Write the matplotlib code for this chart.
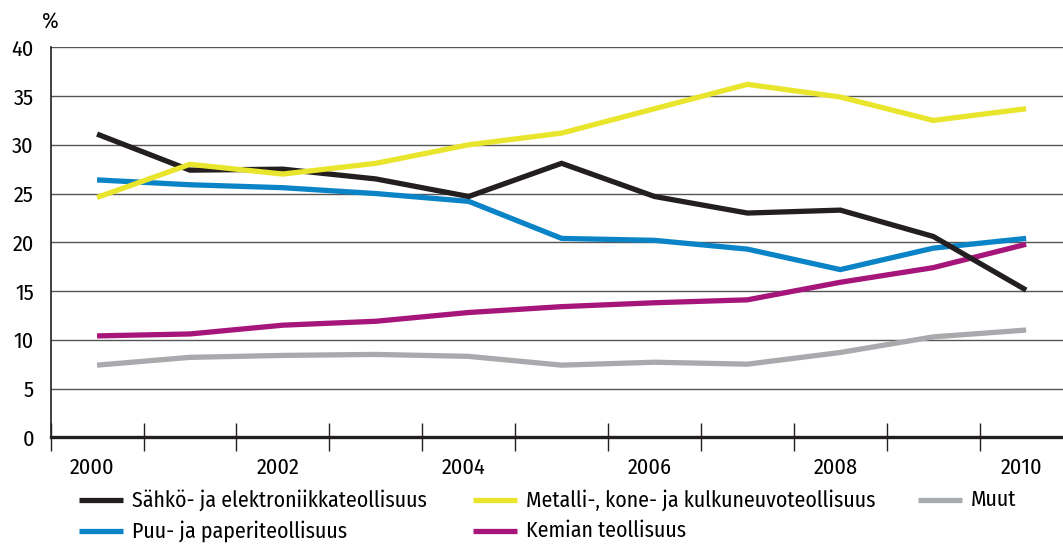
import matplotlib
matplotlib.use("Agg")
import matplotlib.pyplot as plt
from matplotlib.lines import Line2D
import matplotlib.transforms as mtransforms

years = [2000, 2001, 2002, 2003, 2004, 2005, 2006, 2007, 2008, 2009, 2010]
sahko = [31.1, 27.4, 27.5, 26.5, 24.7, 28.1, 24.7, 23.0, 23.3, 20.6, 15.1]
metalli = [24.6, 28.0, 27.0, 28.1, 30.0, 31.2, 33.7, 36.2, 34.9, 32.5, 33.7]
puu = [26.4, 25.9, 25.6, 25.0, 24.2, 20.4, 20.2, 19.3, 17.2, 19.4, 20.4]
kemia = [10.4, 10.6, 11.5, 11.9, 12.8, 13.4, 13.8, 14.1, 15.9, 17.4, 19.8]
muut = [7.4, 8.2, 8.4, 8.5, 8.3, 7.4, 7.7, 7.5, 8.7, 10.3, 11.0]
year_labels = ["2000", "", "2002", "", "2004", "", "2006", "", "2008", "", "2010"]
yticks = [0, 5, 10, 15, 20, 25, 30, 35, 40]

series = [
    ("Sähkö- ja elektroniikkateollisuus", sahko, "#231f20"),
    ("Puu- ja paperiteollisuus", puu, "#0a84c6"),
    ("Metalli-, kone- ja kulkuneuvoteollisuus", metalli, "#e9e52c"),
    ("Kemian teollisuus", kemia, "#a6157a"),
    ("Muut", muut, "#a8aaad"),
]

plt.rcParams['font.family'] = ['Fira Sans Condensed', 'PT Sans Narrow', 'Asap Condensed',
                               'Roboto Condensed', 'Open Sans', 'DejaVu Sans']

W, H = 1063, 544
fig = plt.figure(figsize=(W / 100, H / 100), dpi=100)
ax = fig.add_axes([50.6 / W, (H - 437.3) / H, 1022 / W, 390 / H])

x = list(range(len(years)))
draw_order = ["Muut", "Kemian teollisuus", "Puu- ja paperiteollisuus",
              "Sähkö- ja elektroniikkateollisuus", "Metalli-, kone- ja kulkuneuvoteollisuus"]
lookup = {s[0]: s for s in series}
for name in draw_order:
    _, vals, col = lookup[name]
    ax.plot(x, vals, color=col, lw=3.8, solid_capstyle='butt', solid_joinstyle='miter', zorder=3)

ax.set_xlim(-0.5, len(years) - 0.5)
ax.set_ylim(0, 40)
ax.set_yticks(yticks)
ax.set_yticklabels([str(v) for v in yticks], fontsize=16)
ax.tick_params(axis='y', length=0, pad=12)
ax.yaxis.grid(True, color='#555555', lw=1.0)
ax.set_axisbelow(True)

ax.set_xticks(x)
ax.set_xticklabels(year_labels, fontsize=16)
ax.set_xticks([i - 0.5 for i in range(len(years) + 1)], minor=True)
ax.tick_params(axis='x', which='major', length=0, pad=14)
ax.tick_params(axis='x', which='minor', direction='inout', length=20, width=1.0, color='#231f20')
shift = mtransforms.ScaledTranslation(-5 / 100, 0, fig.dpi_scale_trans)
for tick in ax.xaxis.get_major_ticks():
    tick.label1.set_transform(tick.label1.get_transform() + shift)

for s in ['top', 'right']:
    ax.spines[s].set_visible(False)
ax.spines['bottom'].set_linewidth(2.4)
ax.spines['bottom'].set_color('#231f20')
ax.spines['left'].set_linewidth(1.2)
ax.spines['left'].set_color('#231f20')

fig.text(42 / W, 1 - 21 / H, "%", fontsize=16, va='center', ha='left')

# legend, placed by hand (pixel positions from the top-left corner)
leg_pos = {
    "Sähkö- ja elektroniikkateollisuus": (79, 500),
    "Puu- ja paperiteollisuus": (79, 531),
    "Metalli-, kone- ja kulkuneuvoteollisuus": (473, 500),
    "Kemian teollisuus": (473, 531),
    "Muut": (918, 500),
}
for name, _, col in series:
    px, py = leg_pos[name]
    yf = 1 - py / H
    fig.add_artist(Line2D([px / W, (px + 44) / W], [yf, yf], color=col, lw=3.8,
                          solid_capstyle='butt', transform=fig.transFigure))
    fig.text((px + 53) / W, yf, name, fontsize=15.7, va='center', ha='left')

fig.savefig("out.png", dpi=100)
